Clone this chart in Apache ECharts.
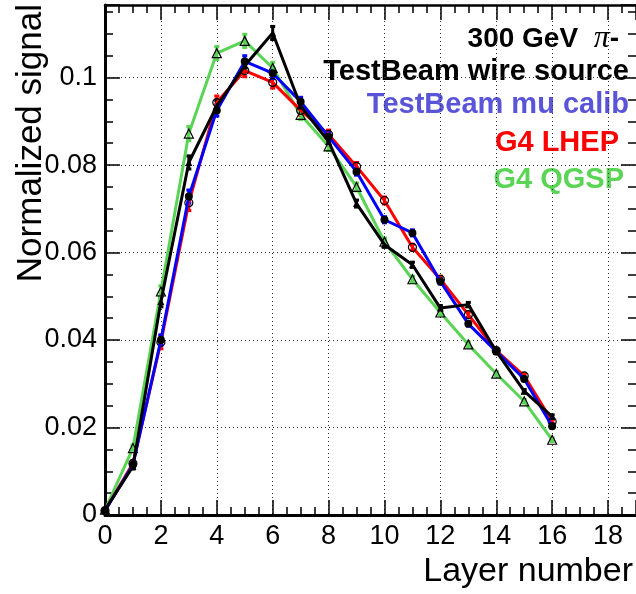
<!DOCTYPE html>
<html>
<head>
<meta charset="utf-8">
<script src="https://cdn.jsdelivr.net/npm/echarts@6/dist/echarts.min.js"></script>
<style>
  html, body { margin: 0; padding: 0; background: #fff; }
  #chart { width: 636px; height: 594px; }
</style>
</head>
<body>
<div id="chart"></div>
<script>
var layers = [0, 1, 2, 3, 4, 5, 6, 7, 8, 9, 10, 11, 12, 13, 14, 15, 16];

// TestBeam wire source (black)
var wireSource = [0.0012, 0.0111, 0.0488, 0.0806, 0.0935, 0.1027, 0.1102, 0.0935, 0.0854, 0.0712, 0.0618, 0.0572, 0.0473, 0.0481, 0.0374, 0.0283, 0.0225];
var wireSourceErr = [0.0002, 0.0006, 0.0012, 0.0015, 0.0012, 0.0012, 0.0015, 0.0010, 0.0008, 0.0008, 0.0006, 0.0006, 0.0006, 0.0005, 0.0005, 0.0004, 0.0004];
// TestBeam mu calib (blue)
var muCalib = [0.0010, 0.0115, 0.0400, 0.0728, 0.0925, 0.1037, 0.1010, 0.0945, 0.0865, 0.0785, 0.0675, 0.0645, 0.0534, 0.0437, 0.0374, 0.0311, 0.0203];
var muCalibErr = [0.0002, 0.0006, 0.0012, 0.0015, 0.0013, 0.0013, 0.0012, 0.0010, 0.0009, 0.0008, 0.0007, 0.0007, 0.0006, 0.0005, 0.0005, 0.0004, 0.0004];
// G4 LHEP (red)
var lhep = [0.0010, 0.0118, 0.0395, 0.0714, 0.0943, 0.1016, 0.0989, 0.0925, 0.0870, 0.0797, 0.0719, 0.0612, 0.0539, 0.0458, 0.0376, 0.0318, 0.0214];
var lhepErr = [0.0002, 0.0006, 0.0015, 0.0018, 0.0015, 0.0014, 0.0013, 0.0011, 0.0010, 0.0009, 0.0008, 0.0007, 0.0007, 0.0006, 0.0005, 0.0005, 0.0004];
// G4 QGSP (green)
var qgsp = [0.0012, 0.0153, 0.0511, 0.0872, 0.1056, 0.1084, 0.1022, 0.0915, 0.0843, 0.0750, 0.0625, 0.0539, 0.0463, 0.0390, 0.0323, 0.0260, 0.0172];
var qgspErr = [0.0002, 0.0007, 0.0013, 0.0016, 0.0015, 0.0015, 0.0013, 0.0011, 0.0010, 0.0009, 0.0008, 0.0007, 0.0006, 0.0005, 0.0005, 0.0004, 0.0004];

var xTicks = [0, 2, 4, 6, 8, 10, 12, 14, 16, 18];
var yTicks = [0, 0.02, 0.04, 0.06, 0.08, 0.1];

var chart = echarts.init(document.getElementById('chart'));

function pts(vals) {
    return layers.map(function (x, i) { return [x, vals[i]]; });
}
function errPts(vals, errs) {
    return layers.map(function (x, i) { return [x, vals[i] - errs[i], vals[i] + errs[i]]; });
}

function errorSeries(vals, errs, color) {
    return {
        type: 'custom',
        silent: true,
        z: 1,
        renderItem: function (params, api) {
            var x = api.value(0);
            var lo = api.coord([x, api.value(1)]);
            var hi = api.coord([x, api.value(2)]);
            var cap = 2.5;
            var st = { stroke: color, lineWidth: 3 };
            return {
                type: 'group',
                children: [
                    { type: 'line', shape: { x1: lo[0], y1: lo[1], x2: hi[0], y2: hi[1] }, style: st },
                    { type: 'line', shape: { x1: lo[0] - cap, y1: lo[1], x2: lo[0] + cap, y2: lo[1] }, style: st },
                    { type: 'line', shape: { x1: hi[0] - cap, y1: hi[1], x2: hi[0] + cap, y2: hi[1] }, style: st }
                ]
            };
        },
        data: errPts(vals, errs)
    };
}

function lineSeries(name, vals, color, symbol, size, filled, z) {
    return {
        name: name,
        type: 'line',
        z: z,
        data: pts(vals),
        symbol: symbol,
        symbolSize: size,
        showAllSymbol: true,
        lineStyle: { color: color, width: 3 },
        itemStyle: filled
            ? { color: '#000', borderWidth: 0 }
            : { color: 'rgba(0,0,0,0)', borderColor: '#000', borderWidth: 1.2 },
        emphasis: { disabled: true },
        animation: false
    };
}

var labelFont = { fontFamily: 'Liberation Sans', fontSize: 27, color: '#000' };

option = {
    animation: false,
    backgroundColor: '#fff',
    grid: { left: 105, right: -1, top: 5, bottom: 79 },
    xAxis: [{
        type: 'value',
        min: 0,
        max: 19,
        interval: 2,
        axisLine: { onZero: false, lineStyle: { color: '#000', width: 3 } },
        axisTick: { inside: true, length: 15, lineStyle: { color: '#000', width: 1.5 } },
        minorTick: { show: true, splitNumber: 4, length: 8, lineStyle: { color: '#000', width: 1.5 } },
        axisLabel: Object.assign({ margin: 8, showMaxLabel: false,
            formatter: function (v) { return xTicks.indexOf(v) >= 0 ? String(v) : ''; } }, labelFont),
        splitLine: { show: true, lineStyle: { color: '#333', width: 1, type: [1, 3] } }
    }, {
        type: 'value',
        position: 'top',
        min: 0,
        max: 19,
        interval: 2,
        axisLine: { onZero: false, lineStyle: { color: '#000', width: 2.5 } },
        axisTick: { inside: true, length: 15, lineStyle: { color: '#000', width: 1.5 } },
        minorTick: { show: true, splitNumber: 4, length: 8, lineStyle: { color: '#000', width: 1.5 } },
        axisLabel: { show: false },
        splitLine: { show: false }
    }],
    yAxis: [{
        type: 'value',
        min: 0,
        max: 0.1166,
        interval: 0.02,
        axisLine: { onZero: false, lineStyle: { color: '#000', width: 3 } },
        axisTick: { inside: true, length: 15, lineStyle: { color: '#000', width: 1.5 } },
        minorTick: { show: true, splitNumber: 4, length: 8, lineStyle: { color: '#000', width: 1.5 } },
        axisLabel: Object.assign({ margin: 8, showMaxLabel: false,
            formatter: function (v) {
                for (var i = 0; i < yTicks.length; i++) {
                    if (Math.abs(yTicks[i] - v) < 1e-9) return String(yTicks[i]);
                }
                return '';
            } }, labelFont),
        splitLine: { show: true, lineStyle: { color: '#333', width: 1, type: [1, 3] } }
    }, {
        type: 'value',
        position: 'right',
        min: 0,
        max: 0.1166,
        interval: 0.02,
        axisLine: { show: false, onZero: false },
        axisTick: { show: true, inside: true, length: 15, lineStyle: { color: '#000', width: 1.5 } },
        minorTick: { show: true, splitNumber: 4, length: 8, lineStyle: { color: '#000', width: 1.5 } },
        axisLabel: { show: false },
        splitLine: { show: false }
    }],
    graphic: [
        { type: 'text', x: 31, y: 4, rotation: Math.PI / 2,
          style: { text: 'Normalized signal', fill: '#000', font: '35px "Liberation Sans"', align: 'right', verticalAlign: 'middle' } },
        { type: 'text', x: 633, y: 572,
          style: { text: 'Layer number', fill: '#000', font: '34px "Liberation Sans"', align: 'right', verticalAlign: 'middle' } },
        { type: 'text', x: 619, y: 39,
          style: { text: '{a|300 GeV  }{b|π}{a|-}', align: 'right', verticalAlign: 'middle',
                   rich: {
                       a: { fontFamily: 'Liberation Sans', fontWeight: 'bold', fontSize: 28, fill: '#000' },
                       b: { fontFamily: 'Liberation Serif', fontStyle: 'italic', fontSize: 32, fill: '#000' }
                   } } },
        { type: 'text', x: 629, y: 72,
          style: { text: 'TestBeam wire source', fill: '#000', font: 'bold 29px "Liberation Sans"', align: 'right', verticalAlign: 'middle' } },
        { type: 'text', x: 629, y: 105,
          style: { text: 'TestBeam mu calib', fill: '#5954d8', font: 'bold 29px "Liberation Sans"', align: 'right', verticalAlign: 'middle' } },
        { type: 'text', x: 619, y: 143,
          style: { text: 'G4 LHEP', fill: '#ff0000', font: 'bold 29px "Liberation Sans"', align: 'right', verticalAlign: 'middle' } },
        { type: 'text', x: 624, y: 180,
          style: { text: 'G4 QGSP', fill: '#59d454', font: 'bold 29px "Liberation Sans"', align: 'right', verticalAlign: 'middle' } }
    ],
    series: [
        errorSeries(qgsp, qgspErr, '#59d454'),
        errorSeries(lhep, lhepErr, '#ff0000'),
        errorSeries(muCalib, muCalibErr, '#0000ff'),
        errorSeries(wireSource, wireSourceErr, '#000'),
        lineSeries('G4 QGSP', qgsp, '#59d454', 'triangle', 9, false, 2),
        lineSeries('G4 LHEP', lhep, '#ff0000', 'circle', 8, false, 3),
        lineSeries('TestBeam mu calib', muCalib, '#0000ff', 'circle', 8, true, 4),
        lineSeries('TestBeam wire source', wireSource, '#000', 'triangle', 7, true, 5)
    ]
};

chart.setOption(option);
</script>
</body>
</html>
